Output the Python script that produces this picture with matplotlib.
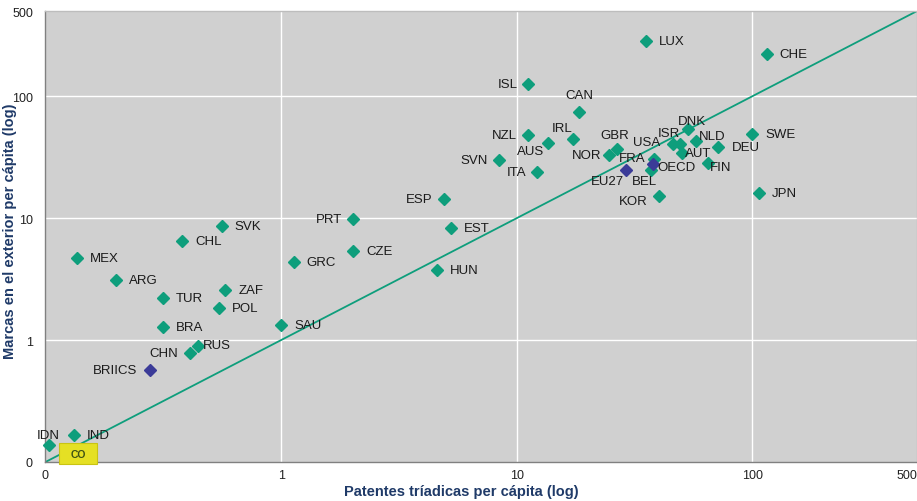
import matplotlib
matplotlib.use("Agg")
import matplotlib.pyplot as plt
from matplotlib.patches import Rectangle
from matplotlib.ticker import FixedLocator, FixedFormatter, NullLocator

# Country codes and values (per capita), log scales on both axes
countries = ["LUX", "CHE", "ISL", "CAN", "NZL", "IRL", "AUS", "GBR", "NOR", "SVN",
             "ITA", "DNK", "USA", "ISR", "NLD", "DEU", "SWE", "AUT", "FRA", "BEL",
             "FIN", "KOR", "JPN", "ESP", "PRT", "EST", "CZE", "GRC", "HUN", "SVK",
             "CHL", "MEX", "ARG", "TUR", "ZAF", "POL", "BRA", "SAU", "RUS", "CHN",
             "IND", "IDN"]
patents = [35.4, 115.0, 11.2, 18.4, 11.2, 17.3, 13.6, 26.7, 24.7, 8.4,
           12.2, 53.2, 46.2, 49.4, 57.5, 71.8, 99.8, 50.2, 38.4, 37.1,
           64.7, 40.3, 107.0, 4.9, 2.02, 5.25, 2.02, 1.13, 4.6, 0.56,
           0.38, 0.136, 0.20, 0.316, 0.58, 0.544, 0.316, 1.0, 0.446, 0.411,
           0.132, 0.103]
trademarks = [285.0, 223.0, 125.0, 74.0, 48.0, 44.5, 41.6, 36.9, 32.9, 29.8,
              24.1, 53.7, 40.5, 40.5, 42.9, 38.6, 49.3, 34.0, 30.5, 24.8,
              28.2, 15.3, 16.0, 14.3, 9.8, 8.28, 5.4, 4.37, 3.78, 8.65,
              6.52, 4.68, 3.09, 2.22, 2.58, 1.84, 1.27, 1.32, 0.893, 0.787,
              0.168, 0.138]

aggregates = ["OECD", "EU27", "BRIICS"]
agg_patents = [38.0, 29.1, 0.278]
agg_trademarks = [28.0, 24.8, 0.572]

tick_values = [0.1, 1, 10, 100, 500]
tick_labels = ["0", "1", "10", "100", "500"]

# label placement: (dx px, dy px, horizontal alignment)
RIGHT = (13, 0, "left")
LEFT = (-11, 0, "right")
label_pos = {
    "ISL": LEFT, "NZL": LEFT, "SVN": LEFT, "ITA": LEFT, "ESP": LEFT, "PRT": LEFT,
    "CHN": (-12, 0, "right"), "BRIICS": (-13, 0, "right"), "NOR": (-8, 0, "right"),
    "CAN": (0, 17, "center"), "IRL": (-11, 11, "center"), "AUS": (-18, -8, "center"),
    "GBR": (-2, 14, "center"), "DNK": (4, 8, "center"), "ISR": (-11, 11, "center"),
    "USA": (-13, 2, "right"), "NLD": (3, 5, "left"), "AUT": (3, 0, "left"),
    "FRA": (-9, 1, "right"), "OECD": (4, -3, "left"), "EU27": (-2, -11, "right"),
    "BEL": (-6, -11, "center"), "FIN": (2, -4, "left"), "KOR": (-26, -5, "center"),
    "RUS": (4, 1, "left"), "IDN": (0, 10, "center"),
}

GREEN = "#0e9e7c"
BLUE = "#3b3b98"
NAVY = "#1f3a68"

plt.rcParams["font.family"] = ["Liberation Sans", "DejaVu Sans"]

fig = plt.figure(figsize=(9.17, 5.02), dpi=100)
ax = fig.add_axes([0.0496, 0.0777, 0.9504, 0.8983])
ax.set_facecolor("#d0d0d0")
ax.set_xscale("log")
ax.set_yscale("log")
ax.set_xlim(0.1, 500)
ax.set_ylim(0.1, 500)

# gridlines at decades only
for v in [1, 10, 100]:
    ax.axvline(v, color="white", lw=1.0, zorder=1)
    ax.axhline(v, color="white", lw=1.0, zorder=1)

# 45-degree reference line
ax.plot([0.1, 500], [0.1, 500], color=GREEN, lw=1.3, zorder=2)

ax.plot(patents, trademarks, linestyle="none", marker="D", ms=6,
        color=GREEN, mec=GREEN, zorder=3, clip_on=False)
ax.plot(agg_patents, agg_trademarks, linestyle="none", marker="D", ms=6,
        color=BLUE, mec=BLUE, zorder=4, clip_on=False)

for name, x, y in list(zip(countries, patents, trademarks)) + \
        list(zip(aggregates, agg_patents, agg_trademarks)):
    dx, dy, ha = label_pos.get(name, RIGHT)
    ax.annotate(name, (x, y), xytext=(dx, dy), textcoords="offset pixels",
                ha=ha, va="center", fontsize=9.5, color="#1a1a1a", zorder=5)

ax.xaxis.set_major_locator(FixedLocator(tick_values))
ax.xaxis.set_major_formatter(FixedFormatter(tick_labels))
ax.yaxis.set_major_locator(FixedLocator(tick_values))
ax.yaxis.set_major_formatter(FixedFormatter(tick_labels))
ax.xaxis.set_minor_locator(NullLocator())
ax.yaxis.set_minor_locator(NullLocator())
ax.tick_params(axis="both", length=0, labelsize=9, labelcolor="#222222")
ax.tick_params(axis="x", pad=5)
ax.tick_params(axis="y", pad=9)
ax.get_xticklabels()[-1].set_ha("right")

for side in ["left", "bottom"]:
    ax.spines[side].set_color("#808080")
    ax.spines[side].set_linewidth(1.0)
for side in ["top", "right"]:
    ax.spines[side].set_color("#bdbdbd")
    ax.spines[side].set_linewidth(1.0)

fig.text(0.5035, 0.006, "Patentes tríadicas per cápita (log)", ha="center",
         va="bottom", fontsize=10.5, fontweight="bold", color=NAVY)
fig.text(0.011, 0.54, "Marcas en el exterior per cápita (log)", ha="center",
         va="center", rotation=90, fontsize=10.5, fontweight="bold", color=NAVY)

# small "CO" badge at the origin corner
W, H = 917.0, 502.0
fig.patches.append(Rectangle((59 / W, 1 - 465 / H), 38 / W, 21 / H,
                             transform=fig.transFigure, fc="#e5e024",
                             ec="#c9c413", lw=0.8, zorder=10))
fig.text(78 / W, 1 - 455 / H, "CO", ha="center", va="center",
         fontsize=7.5, fontweight="bold", color="#3f5314", zorder=11)

fig.savefig("out.png", dpi=100)
